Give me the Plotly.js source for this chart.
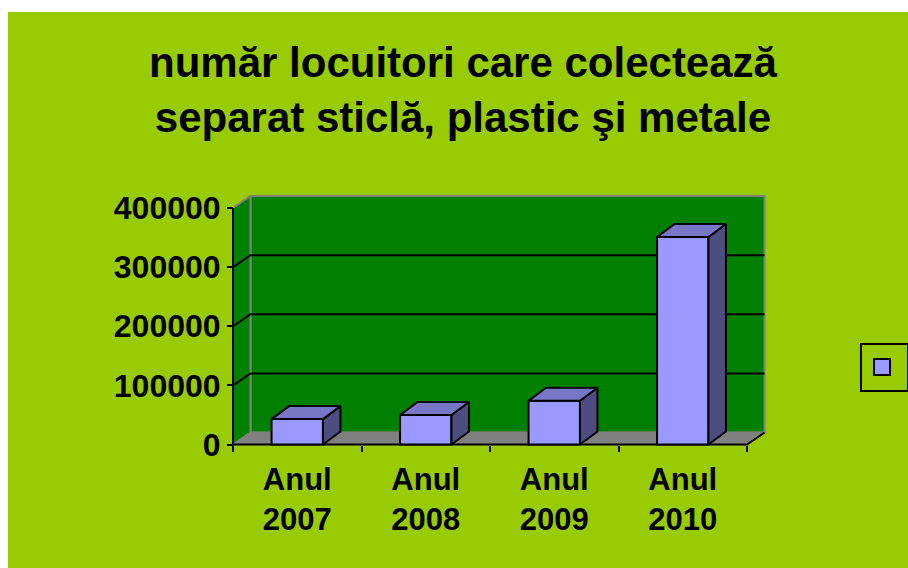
<!DOCTYPE html>
<html><head><meta charset="utf-8">
<script src="https://cdn.plot.ly/plotly-3.0.1.min.js"></script>
<style>html,body{margin:0;padding:0;background:#fff}#chart{width:908px;height:568px}</style>
</head><body><div id="chart"></div>
<script>
// ---- data ----
const categories = ['Anul 2007', 'Anul 2008', 'Anul 2009', 'Anul 2010'];
const tickLabels = ['Anul<br>2007', 'Anul<br>2008', 'Anul<br>2009', 'Anul<br>2010'];
const values = [43000, 50000, 74000, 351000];
const yTickVals = [0, 100000, 200000, 300000, 400000];
const yTickText = ['0', '100000', '200000', '300000', '400000'];
const titleText = 'număr locuitori care colectează<br>separat sticlă, plastic şi metale';
const seriesName = '';

// ---- geometry (pixels) ----
const W = 908, H = 568;
const FONT = '"Liberation Sans", Arial, sans-serif';
const X0 = 233, CAT = 128.5;           // front-left x, px per category
const Y0 = 444.5, YSPAN = 236.5, YMAX = 400000;
const DEPTH_X = 17.5, DEPTH_Y = 12;    // wall/floor depth
const BAR_DX = 17.5, BAR_DY = 13;      // bar depth
const BARW = 0.4;
const nCat = categories.length;
const pxToU = p => (p - X0) / CAT - 0.5;
const pxToV = p => (Y0 - p) * YMAX / YSPAN;
const du = DEPTH_X / CAT, dv = DEPTH_Y * YMAX / YSPAN;
const bdu = BAR_DX / CAT, bdv = BAR_DY * YMAX / YSPAN;
const L = -0.5, R = nCat - 0.5;
const dom = {x0: 231, x1: 771, y0: 190, y1: 447};
const xRange = [pxToU(dom.x0), pxToU(dom.x1)];
const yRange = [pxToV(dom.y1), pxToV(dom.y0)];
const idx = categories.map((c, i) => i);
const yTop = yTickVals[yTickVals.length - 1];

const path = pts => 'M' + pts.map(p => p[0] + ',' + p[1]).join('L');

const GREEN = '#008000', LIME = '#99CC00', GRAY = '#808080';
const shapes = [
  {type: 'rect', xref: 'paper', yref: 'paper', x0: 8 / W, x1: 1, y0: 0, y1: 1 - 12 / H,
   fillcolor: LIME, line: {width: 0}, layer: 'below'},
  // back wall
  {type: 'path', xref: 'x', yref: 'y', layer: 'below',
   path: path([[L + du, dv], [R + du, dv], [R + du, yTop + dv], [L + du, yTop + dv]]) + 'Z',
   fillcolor: GREEN, line: {color: GRAY, width: 2}},
  // side wall
  {type: 'path', xref: 'x', yref: 'y', layer: 'below',
   path: path([[L, 0], [L + du, dv], [L + du, yTop + dv], [L, yTop]]) + 'Z',
   fillcolor: GREEN, line: {color: GRAY, width: 2}},
];
// gridlines on side + back wall
yTickVals.slice(1, -1).forEach(v => {
  shapes.push({type: 'path', xref: 'x', yref: 'y', layer: 'below',
    path: path([[L, v], [L + du, v + dv], [R + du, v + dv]]),
    line: {color: '#000', width: 2}});
});
// floor
shapes.push({type: 'path', xref: 'x', yref: 'y', layer: 'below',
  path: path([[L, 0], [R, 0], [R + du, dv], [L + du, dv]]) + 'Z',
  fillcolor: GRAY, line: {color: GRAY, width: 1.5}});
// front axis lines
shapes.push({type: 'path', xref: 'x', yref: 'y', layer: 'below',
  path: path([[L, yTop], [L, 0], [R, 0], [R + du, dv]]),
  line: {color: '#000', width: 2}});

// bar 3D faces
const topX = [], topY = [], sideX = [], sideY = [];
idx.forEach((i, k) => {
  const v = values[k], a = i - BARW / 2, b = i + BARW / 2;
  topX.push(a, a + bdu, b + bdu, b, a, null);
  topY.push(v, v + bdv, v + bdv, v, v, null);
  sideX.push(b, b + bdu, b + bdu, b, b, null);
  sideY.push(0, bdv, v + bdv, v, 0, null);
});

const xFont = {family: FONT, size: 31, color: '#000', weight: 'bold'};
const yFont = {family: FONT, size: 32, color: '#000', weight: 'bold'};
const traces = [
  {type: 'bar', x: idx, y: values, width: BARW, name: seriesName,
   marker: {color: '#9999FF', line: {color: '#000', width: 2}},
   showlegend: false, hoverinfo: 'skip'},
  {type: 'scatter', x: sideX, y: sideY, mode: 'lines', fill: 'toself',
   fillcolor: '#4D4D80', line: {color: '#000', width: 2}, showlegend: false, hoverinfo: 'skip'},
  {type: 'scatter', x: topX, y: topY, mode: 'lines', fill: 'toself',
   fillcolor: '#7777C6', line: {color: '#000', width: 2}, showlegend: false, hoverinfo: 'skip'},
  {type: 'scatter', x: [null], y: [null], mode: 'markers', name: seriesName,
   marker: {symbol: 'square', size: 16, color: '#9999FF', line: {color: '#000', width: 2}},
   showlegend: true, hoverinfo: 'skip'},
  {type: 'scatter', x: [null], y: [null], xaxis: 'x2', yaxis: 'y', showlegend: false, hoverinfo: 'skip'}
];

const layout = {
  width: W, height: H,
  margin: {l: 0, r: 0, t: 0, b: 0, autoexpand: false},
  paper_bgcolor: '#FFFFFF', plot_bgcolor: 'rgba(0,0,0,0)',
  font: {family: FONT, color: '#000'},
  title: {text: titleText, font: {family: FONT, size: 42, color: '#000', weight: 'bold'},
          x: 463 / W, xanchor: 'center', xref: 'paper', y: 1 - 77 / H, yanchor: 'top', yref: 'paper'},
  showlegend: true,
  legend: {x: 860 / W, xanchor: 'left', y: 1 - 343 / H, yanchor: 'top',
           bordercolor: '#000', borderwidth: 2, bgcolor: 'rgba(0,0,0,0)',
           entrywidth: 80, entrywidthmode: 'pixels',
           font: {family: FONT, size: 24, color: '#000'}, itemsizing: 'trace'},
  xaxis: {range: xRange, domain: [dom.x0 / W, dom.x1 / W], anchor: 'free', position: 1 - Y0 / H,
          tickmode: 'array', tickvals: idx, ticktext: tickLabels, ticks: '',
          showgrid: false, zeroline: false, showline: false, tickfont: xFont,
          ticklabelstandoff: 13, fixedrange: true},
  xaxis2: {overlaying: 'x', range: xRange, anchor: 'free', position: 1 - Y0 / H,
           tickmode: 'array', tickvals: idx.concat([nCat]).map(i => i - 0.5),
           ticks: 'outside', ticklen: 6, tickwidth: 2, tickcolor: '#000',
           showticklabels: false, showgrid: false, zeroline: false, showline: false, fixedrange: true},
  yaxis: {range: yRange, domain: [1 - dom.y1 / H, 1 - dom.y0 / H], anchor: 'free', position: X0 / W,
          tickmode: 'array', tickvals: yTickVals, ticktext: yTickText,
          ticks: 'outside', ticklen: 6, tickwidth: 2, tickcolor: '#000',
          showgrid: false, zeroline: false, showline: false, tickfont: yFont, fixedrange: true},
  shapes: shapes
};

Plotly.newPlot('chart', traces, layout, {displayModeBar: false, staticPlot: true});
</script></body></html>
